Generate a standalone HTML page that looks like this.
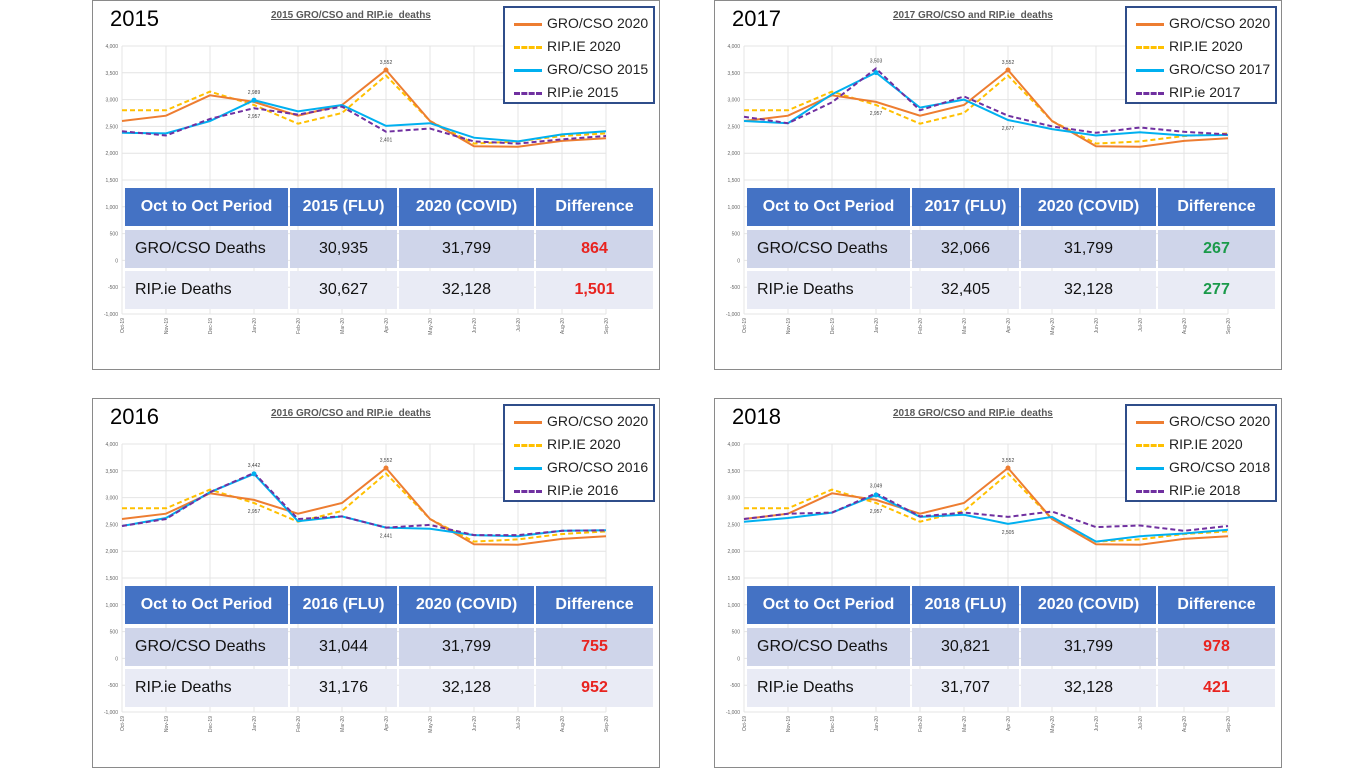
<!DOCTYPE html>
<html><head><meta charset="utf-8"><style>
body{margin:0;width:1366px;height:768px;background:#fff;position:relative;overflow:hidden;font-family:"Liberation Sans",sans-serif}
.p{position:absolute;width:566px;height:368px;border:1px solid #8a8a8a;background:#fff}
.p svg{position:absolute;left:0;top:0}
.yr{position:absolute;left:17px;top:5px;font-size:22px;color:#000}
.ct{position:absolute;left:178px;top:9px;font-size:10px;font-weight:bold;color:#595959;text-decoration:underline}
.lg{position:absolute;left:410px;top:5px;width:152px;height:98px;border:2px solid #2f4d8a;background:#fff;box-sizing:border-box}
.lg div{position:absolute;left:42px;font-size:14px;color:#222}
.lg i{position:absolute;left:9px;width:28px;height:0}
.tb{position:absolute;left:32px;top:187px;width:528px;height:121px}
.c{position:absolute;display:flex;align-items:center;justify-content:center;font-size:16px;box-sizing:border-box}
.h{background:#4472c4;color:#fff;font-weight:bold}
.r1{background:#cfd5ea;color:#111}.r2{background:#e9ebf5;color:#111}
.red{color:#e8231f;font-weight:bold}.grn{color:#1a9a4a;font-weight:bold}
</style></head><body>
<div id="root"></div>
<script>
const M=["Oct-19","Nov-19","Dec-19","Jan-20","Feb-20","Mar-20","Apr-20","May-20","Jun-20","Jul-20","Aug-20","Sep-20"];
const TK=["4,000","3,500","3,000","2,500","2,000","1,500","1,000","500","0","-500","-1,000"];
const O=[2600,2700,3080,2957,2700,2900,3552,2600,2130,2120,2230,2280];
const Y=[2800,2800,3150,2900,2550,2750,3450,2600,2180,2220,2320,2370];
const P=[
{x:92,y:0,yr:"2015",g:[2380,2370,2600,2989,2780,2900,2510,2560,2290,2220,2350,2410],r:[2410,2330,2640,2840,2720,2870,2401,2460,2220,2180,2260,2320],
 t:["30,935","31,799","864","30,627","32,128","1,501"],cl:"red",lb:[[3,2989,-1,"2,989"],[6,3552,-1,"3,552"],[3,2840,1,"2,957"],[6,2401,1,"2,401"]]},
{x:714,y:0,yr:"2017",g:[2600,2560,3100,3503,2850,3000,2620,2450,2330,2390,2330,2340],r:[2680,2560,2950,3580,2800,3060,2700,2500,2380,2480,2400,2350],
 t:["32,066","31,799","267","32,405","32,128","277"],cl:"grn",lb:[[3,3580,-1,"3,503"],[6,3552,-1,"3,552"],[3,2900,1,"2,957"],[6,2620,1,"2,677"]]},
{x:92,y:398,yr:"2016",g:[2470,2620,3100,3442,2560,2650,2441,2420,2300,2280,2380,2390],r:[2470,2600,3100,3460,2600,2650,2441,2490,2300,2300,2380,2390],
 t:["31,044","31,799","755","31,176","32,128","952"],cl:"red",lb:[[3,3460,-1,"3,442"],[6,3552,-1,"3,552"],[3,2900,1,"2,957"],[6,2441,1,"2,441"]]},
{x:714,y:398,yr:"2018",g:[2550,2620,2720,3049,2640,2680,2510,2640,2180,2280,2330,2400],r:[2600,2700,2720,3080,2650,2720,2640,2740,2450,2480,2380,2470],
 t:["30,821","31,799","978","31,707","32,128","421"],cl:"red",lb:[[3,3080,-1,"3,049"],[6,3552,-1,"3,552"],[3,2900,1,"2,957"],[6,2510,1,"2,505"]]}];
const fx=i=>29+i*44, fy=v=>45+(4000-v)*0.0536;
const path=(d,c,dash)=>`<polyline fill="none" stroke="${c}" stroke-width="2" ${dash?'stroke-dasharray="5,3"':''} points="${d.map((v,i)=>fx(i)+','+fy(v).toFixed(1)).join(' ')}"/>`;
let h="";
for(const p of P){
 let s=`<svg width="566" height="368" font-family="Liberation Sans" >`;
 for(let k=0;k<=10;k++){const y=45+26.8*k;s+=`<line x1="29" x2="513" y1="${y}" y2="${y}" stroke="#e4e4e4" stroke-width="1"/><text x="25" y="${y+2}" font-size="5" fill="#666" text-anchor="end">${TK[k]}</text>`}
 for(let i=0;i<12;i++){s+=`<line x1="${fx(i)}" x2="${fx(i)}" y1="45" y2="313" stroke="#e4e4e4"/><text transform="translate(${fx(i)+2},317) rotate(-90)" font-size="5" fill="#666" text-anchor="end">${M[i]}</text>`}
 s+=path(Y,"#ffc000",1)+path(O,"#ed7d31",0)+path(p.g,"#00b0f0",0)+path(p.r,"#7030a0",1);
 s+=`<circle cx="${fx(6)}" cy="${fy(3552)}" r="2.5" fill="#ed7d31"/><circle cx="${fx(3)}" cy="${fy(p.g[3])}" r="2.5" fill="#00b0f0"/>`;
 for(const l of p.lb)s+=`<text x="${fx(l[0])}" y="${fy(l[1])+(l[2]<0?-6:10)}" font-size="5" fill="#444" text-anchor="middle">${l[3]}</text>`;
 s+=`</svg>`;
 const leg=[["GRO/CSO 2020","#ed7d31","solid"],["RIP.IE 2020","#ffc000","dashed"],["GRO/CSO "+p.yr,"#00b0f0","solid"],["RIP.ie "+p.yr,"#7030a0","dashed"]];
 let lg=`<div class="lg">`;leg.forEach((e,i)=>{const t=7+i*23;lg+=`<i style="top:${t+8}px;border-top:3px ${e[2]} ${e[1]}"></i><div style="top:${t}px">${e[0]}</div>`});lg+=`</div>`;
 const cols=[0,165,274,411,528];const rows=[[0,38,"h"],[42,38,"r1"],[83,38,"r2"]];
 const txt=[["Oct to Oct Period",p.yr+" (FLU)","2020 (COVID)","Difference"],["GRO/CSO Deaths",p.t[0],p.t[1],p.t[2]],["RIP.ie Deaths",p.t[3],p.t[4],p.t[5]]];
 let tb=`<div class="tb">`;
 rows.forEach((r,ri)=>{for(let c=0;c<4;c++){const w=cols[c+1]-cols[c]-(c<3?2:0);let cls="c "+r[2]+(ri>0&&c==3?" "+p.cl:"");let st=`left:${cols[c]}px;top:${r[0]}px;width:${w}px;height:${r[1]}px;`+(ri>0&&c==0?"justify-content:flex-start;padding-left:10px;":"");tb+=`<div class="${cls}" style="${st}">${txt[ri][c]}</div>`}});
 tb+=`</div>`;
 h+=`<div class="p" style="left:${p.x}px;top:${p.y}px">${s}<div class="yr">${p.yr}</div><div class="ct">${p.yr} GRO/CSO and RIP.ie&nbsp; deaths</div>${lg}${tb}</div>`;
}
document.getElementById("root").innerHTML=h;
</script>
</body></html>
